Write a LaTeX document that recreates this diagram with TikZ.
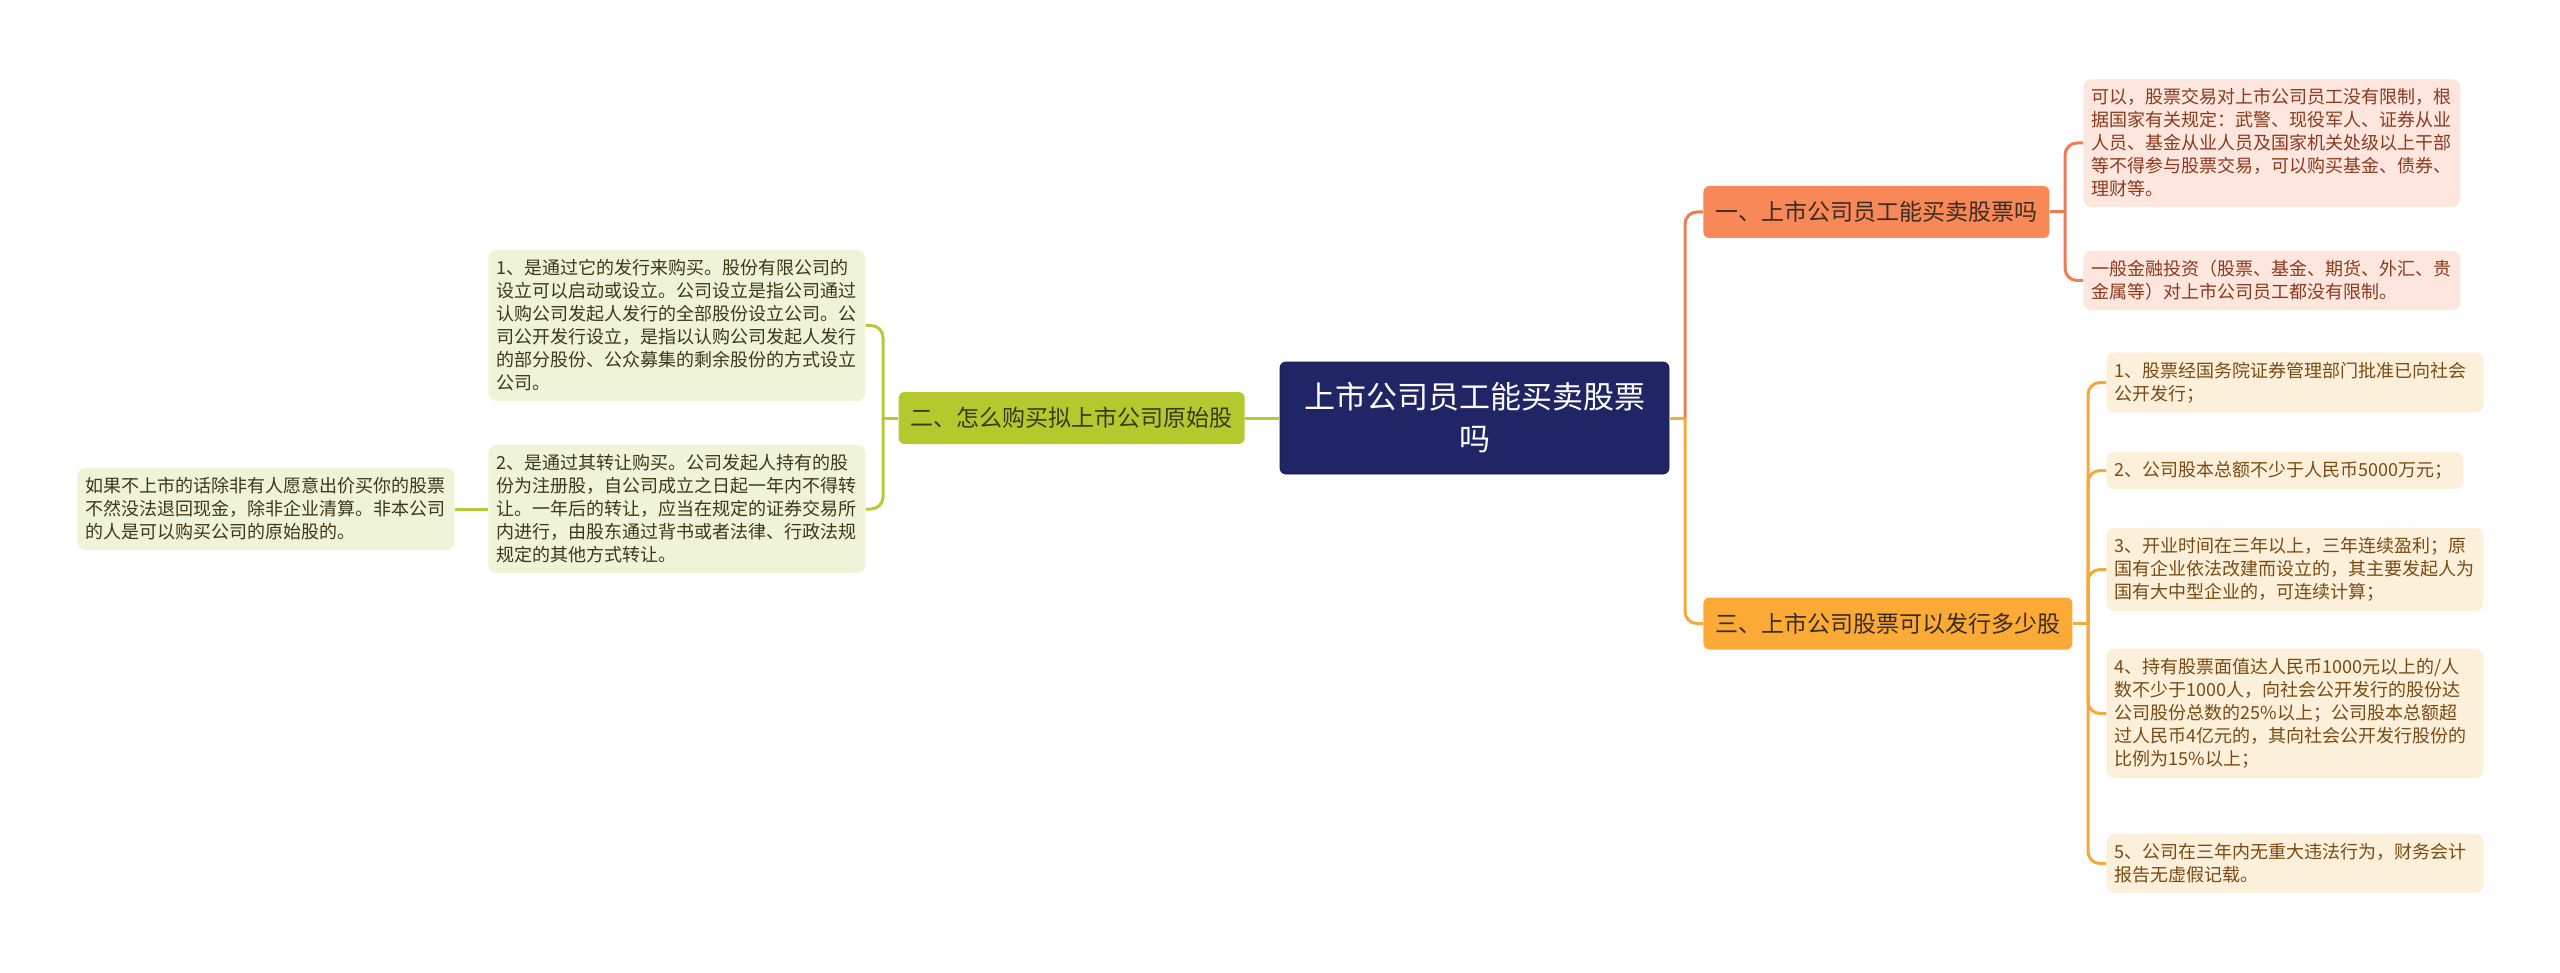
\documentclass[tikz,border=0pt]{standalone}
\usepackage{fontspec}
\setmainfont{Noto Sans CJK SC}
\usetikzlibrary{positioning}
\definecolor{rootblue}{HTML}{202566}
\definecolor{rootedge}{HTML}{161B4C}
\definecolor{coral}{HTML}{F98858}
\definecolor{coralline}{HTML}{EE7D55}
\definecolor{coralleaf}{HTML}{FDE6DD}
\definecolor{coraltext}{HTML}{8A3A1E}
\definecolor{amber}{HTML}{FBAA36}
\definecolor{amberline}{HTML}{F5A93B}
\definecolor{amberleaf}{HTML}{FDF0DB}
\definecolor{ambertext}{HTML}{7A4A12}
\definecolor{olive}{HTML}{B5C92F}
\definecolor{oliveline}{HTML}{B7C934}
\definecolor{oliveleaf}{HTML}{EFF3D8}
\definecolor{olivetext}{HTML}{3A3A18}
\definecolor{darktext}{HTML}{3A2C20}

\begin{document}
\begin{tikzpicture}[x=0.5pt, y=-0.5pt,
      rootbox/.style={draw=rootedge, fill=rootblue, rounded corners=3pt, text=white,
        font=\fontsize{15.5}{21}\selectfont, align=center, text width=176pt,
        inner xsep=9.25pt, minimum height=56pt},
      branch/.style={rounded corners=3pt, text=darktext, inner xsep=6pt,
        font=\fontsize{11.5}{14}\selectfont, minimum height=26pt, anchor=west},
      leaf/.style={rounded corners=4pt, align=left, text width=180pt, inner xsep=4.25pt,
        inner ysep=4.75pt, font=\fontsize{9}{11.5}\selectfont, anchor=west},
      leafA/.style={leaf, fill=coralleaf, text=coraltext},
      leafB/.style={leaf, fill=oliveleaf, text=olivetext},
      leafC/.style={leaf, fill=amberleaf, text=ambertext},
      link/.style={line width=1.5pt},
    ]
    \useasboundingbox (0,0) rectangle (2560,973);
    \node[rootbox] (root) at (1474.5,418) {上市公司员工能买卖股票\\吗};
    % right side
    \node[branch, fill=coral] (one) at (1703,212) {一、上市公司员工能买卖股票吗};
    \node[branch, fill=amber] (three) at (1703,623.5) {三、上市公司股票可以发行多少股};
    \node[leafA] (one1) at (2083,143) {可以，股票交易对上市公司员工没有限制，根\\据国家有关规定：武警、现役军人、证券从业\\人员、基金从业人员及国家机关处级以上干部\\等不得参与股票交易，可以购买基金、债券、\\理财等。};
    \node[leafA] (one2) at (2083,280.5) {一般金融投资（股票、基金、期货、外汇、贵\\金属等）对上市公司员工都没有限制。};
    \node[leafC] (three1) at (2106,382.5) {1、股票经国务院证券管理部门批准已向社会\\公开发行；};
    \node[leafC, text width=170pt] (three2) at (2106,470.5) {2、公司股本总额不少于人民币5000万元；};
    \node[leafC] (three3) at (2106,569.5) {3、开业时间在三年以上，三年连续盈利；原\\国有企业依法改建而设立的，其主要发起人为\\国有大中型企业的，可连续计算；};
    \node[leafC] (three4) at (2106,713.5) {4、持有股票面值达人民币1000元以上的/人\\数不少于1000人，向社会公开发行的股份达\\公司股份总数的25\%以上；公司股本总额超\\过人民币4亿元的，其向社会公开发行股份的\\比例为15\%以上；};
    \node[leafC] (three5) at (2106,863.5) {5、公司在三年内无重大违法行为，财务会计\\报告无虚假记载。};
    % left side
    \node[branch, fill=olive, anchor=east, text=olivetext] (two) at (1245,418) {二、怎么购买拟上市公司原始股};
    \node[leafB] (two1) at (488,325.5) {1、是通过它的发行来购买。股份有限公司的\\设立可以启动或设立。公司设立是指公司通过\\认购公司发起人发行的全部股份设立公司。公\\司公开发行设立，是指以认购公司发起人发行\\的部分股份、公众募集的剩余股份的方式设立\\公司。};
    \node[leafB] (two2) at (488,509) {2、是通过其转让购买。公司发起人持有的股\\份为注册股，自公司成立之日起一年内不得转\\让。一年后的转让，应当在规定的证券交易所\\内进行，由股东通过背书或者法律、行政法规\\规定的其他方式转让。};
    \node[leafB] (two21) at (77,509) {如果不上市的话除非有人愿意出价买你的股票\\不然没法退回现金，除非企业清算。非本公司\\的人是可以购买公司的原始股的。};
    % connectors
    \coordinate (rj) at (1685,418);
    \coordinate (oj) at (2065,212);
    \coordinate (tj) at (2088,623.5);
    \coordinate (wj) at (883,418);
    \draw[link, amberline] (root.east) -- (rj);
    \draw[link, coralline, rounded corners=6pt] (rj) |- (one.west);
    \draw[link, amberline, rounded corners=6pt] (rj) |- (three.west);
    \draw[link, coralline] (one.east) -- (oj);
    \draw[link, coralline, rounded corners=6pt] (oj) |- (one1.west);
    \draw[link, coralline, rounded corners=6pt] (oj) |- (one2.west);
    \draw[link, amberline] (three.east) -- (tj);
    \foreach \n in {three1,three2,three3,three4,three5}
      \draw[link, amberline, rounded corners=6pt] (tj) |- (\n.west);
    \draw[link, oliveline] (root.west) -- (two.east);
    \draw[link, oliveline] (two.west) -- (wj);
    \draw[link, oliveline, rounded corners=6pt] (wj) |- (two1.east);
    \draw[link, oliveline, rounded corners=6pt] (wj) |- (two2.east);
    \draw[link, oliveline] (two2.west) -- (two21.east);
  \end{tikzpicture}
\end{document}
